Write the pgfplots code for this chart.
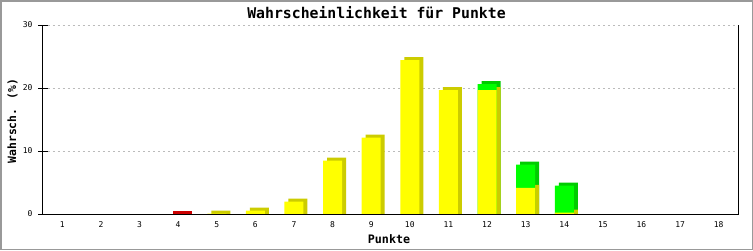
\documentclass[border=0pt]{standalone}
\usepackage{fontspec}
\setmainfont{DejaVu Sans Mono}
\usepackage{pgfplots}
\pgfplotsset{compat=1.18}
\definecolor{yel}{HTML}{FFFF00}
\definecolor{dyel}{HTML}{CCCC00}
\definecolor{grn}{HTML}{00FF00}
\definecolor{dgrn}{HTML}{00CC00}
\definecolor{redf}{HTML}{FF0000}
\definecolor{dred}{HTML}{CC0000}
\definecolor{gridc}{HTML}{BBBBBB}
\definecolor{framec}{HTML}{999999}
\begin{document}
\begin{tikzpicture}
\useasboundingbox (0,0) rectangle (753pt,250pt);
\fill[white] (0,0) rectangle (753pt,250pt);
\begin{axis}[
 at={(43pt,36pt)}, anchor=south west,
 scale only axis, width=695pt, height=189pt,
 xmin=0.5, xmax=18.5, ymin=0, ymax=30,
 xtick={1,...,18}, ytick={0,10,20,30},
 xtick pos=bottom, ytick pos=left,
 xtick style={draw=none},
 ytick style={black, line width=1pt},
 tick align=center, major tick length=10pt,
 axis line style={draw=none},
 ymajorgrids, grid style={gridc, line width=1pt, dash pattern=on 2pt off 3pt},
 /pgf/number format/assume math mode=true,
 ticklabel style={font=\fontsize{8}{8}\selectfont},
 yticklabel style={xshift=-2pt},
 xticklabel style={yshift=1pt},
 clip=false,
]
% side/top faces (shadow), shifted right and up
\addplot[ybar, bar width=19pt, bar shift=4pt, fill=dgrn, draw=none, y filter/.expression={y+0.476}]
 coordinates {(12,20.63) (13,7.83) (14,4.49)};
\addplot[ybar, bar width=19pt, bar shift=4pt, fill=dyel, draw=none, y filter/.expression={y+0.476}]
 coordinates {(5,0.05) (6,0.52) (7,1.95) (8,8.46) (9,12.11) (10,24.44) (11,19.68) (12,19.68) (13,4.13) (14,0.2)};
\addplot[ybar, bar width=19pt, bar shift=4pt, fill=dred, draw=none, y filter/.expression={y+0.476}]
 coordinates {(4,0.05)};
% front faces
\addplot[ybar, bar width=19pt, bar shift=0pt, fill=grn, draw=none]
 coordinates {(12,20.63) (13,7.83) (14,4.49)};
\addplot[ybar, bar width=19pt, bar shift=0pt, fill=yel, draw=none]
 coordinates {(5,0.05) (6,0.52) (7,1.95) (8,8.46) (9,12.11) (10,24.44) (11,19.68) (12,19.68) (13,4.13) (14,0.2)};
\addplot[ybar, bar width=19pt, bar shift=0pt, fill=redf, draw=none]
 coordinates {(4,0.05)};
\draw[black, line width=1pt] (rel axis cs:0,1) -- (rel axis cs:0,0) -- (rel axis cs:1,0) -- (rel axis cs:1,1);
\end{axis}
\node[anchor=base, font=\bfseries\fontsize{14.8}{15}\selectfont] at (376.5pt,231.7pt) {Wahrscheinlichkeit für Punkte};
\node[anchor=base, font=\bfseries\fontsize{11.7}{12}\selectfont] at (389pt,6.7pt) {Punkte};
\node[rotate=90, anchor=center, font=\bfseries\fontsize{11.4}{12}\selectfont] at (12.5pt,129pt) {Wahrsch. (\%)};
\draw[framec, line width=1.5pt] (0.75pt,0.75pt) rectangle (752.25pt,249.25pt);
\end{tikzpicture}
\end{document}
